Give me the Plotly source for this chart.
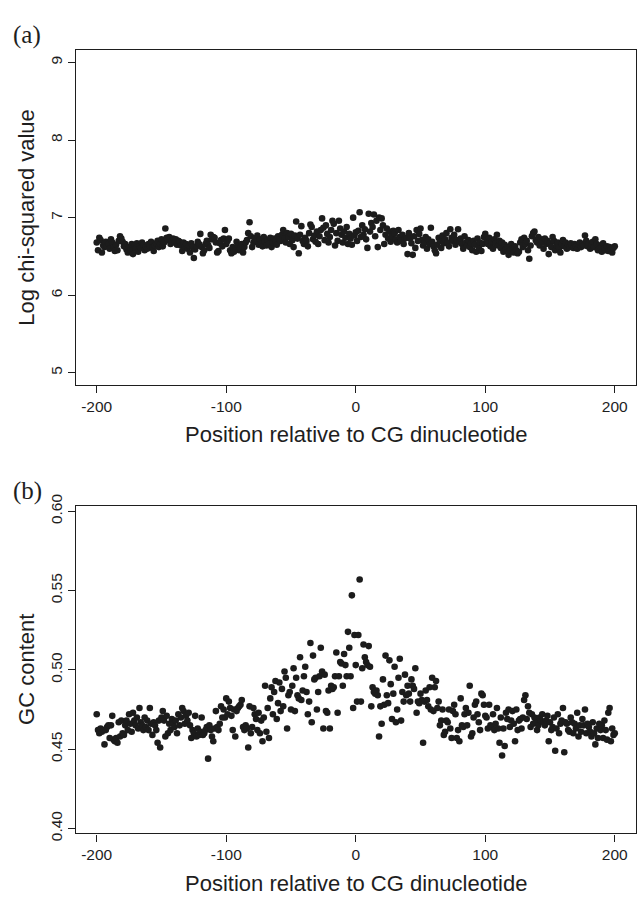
import plotly.graph_objects as go

# ---------------- data ----------------
positions_start = -200

# Panel (a): log chi-squared value, one value per position -200..200
log_chisq = [
    6.68, 6.58, 6.74, 6.71, 6.55, 6.64, 6.62, 6.69, 6.63, 6.66, 6.60, 6.72, 6.68, 6.61, 6.57, 6.65, 6.58, 6.70, 6.76, 6.73,
    6.69, 6.63, 6.66, 6.59, 6.55, 6.62, 6.58, 6.66, 6.53, 6.64, 6.60, 6.67, 6.56, 6.63, 6.61, 6.68, 6.65, 6.58, 6.62, 6.60,
    6.66, 6.63, 6.69, 6.61, 6.57, 6.64, 6.67, 6.70, 6.62, 6.66, 6.72, 6.63, 6.68, 6.86, 6.74, 6.71, 6.75, 6.66, 6.70, 6.73,
    6.68, 6.72, 6.65, 6.70, 6.69, 6.64, 6.57, 6.68, 6.62, 6.66, 6.60, 6.64, 6.55, 6.67, 6.62, 6.48, 6.59, 6.63, 6.69, 6.66,
    6.79, 6.62, 6.54, 6.58, 6.66, 6.70, 6.65, 6.61, 6.78, 6.72, 6.75, 6.74, 6.68, 6.55, 6.57, 6.67, 6.71, 6.63, 6.73, 6.84,
    6.66, 6.70, 6.73, 6.58, 6.54, 6.62, 6.56, 6.60, 6.69, 6.64, 6.58, 6.61, 6.66, 6.55, 6.62, 6.68, 6.71, 6.80, 6.94, 6.76,
    6.62, 6.68, 6.73, 6.70, 6.77, 6.65, 6.72, 6.67, 6.63, 6.75, 6.69, 6.64, 6.71, 6.66, 6.74, 6.62, 6.68, 6.73, 6.70, 6.65,
    6.76, 6.72, 6.70, 6.78, 6.84, 6.73, 6.68, 6.80, 6.75, 6.66, 6.79, 6.71, 6.62, 6.77, 6.95, 6.73, 6.54, 6.78, 6.89, 6.70,
    6.66, 6.74, 6.70, 6.63, 6.80, 6.91, 6.88, 6.72, 6.77, 6.69, 6.82, 6.66, 6.76, 6.84, 6.99, 6.87, 6.71, 6.90, 6.79, 6.68,
    6.75, 6.84, 6.96, 6.92, 6.64, 6.80, 6.70, 6.96, 6.86, 6.78, 6.68, 6.82, 6.74, 6.88, 6.66, 6.79, 6.73, 6.65, 7.00, 6.77,
    6.81, 6.70, 6.83, 7.07, 6.75, 6.90, 6.78, 6.85, 6.72, 6.61, 7.05, 6.82, 6.93, 6.88, 7.04, 6.76, 6.96, 6.62, 7.00, 6.84,
    6.99, 6.90, 6.66, 6.78, 6.86, 6.73, 6.82, 6.69, 6.76, 6.83, 6.80, 6.72, 6.68, 6.84, 6.75, 6.70, 6.78, 6.66, 6.73, 6.74,
    6.53, 6.80, 6.73, 6.67, 6.52, 6.76, 6.61, 6.84, 6.70, 6.79, 6.86, 6.71, 6.64, 6.68, 6.75, 6.60, 6.72, 6.66, 6.87, 6.69,
    6.63, 6.58, 6.54, 6.65, 6.74, 6.70, 6.61, 6.77, 6.67, 6.72, 6.80, 6.68, 6.63, 6.85, 6.74, 6.70, 6.78, 6.65, 6.71, 6.85,
    6.69, 6.73, 6.66, 6.60, 6.76, 6.68, 6.64, 6.71, 6.62, 6.67, 6.58, 6.70, 6.65, 6.56, 6.73, 6.62, 6.68, 6.57, 6.66, 6.75,
    6.79, 6.71, 6.66, 6.74, 6.63, 6.69, 6.60, 6.72, 6.67, 6.78, 6.64, 6.70, 6.61, 6.68, 6.56, 6.65, 6.59, 6.62, 6.52, 6.58,
    6.66, 6.60, 6.55, 6.63, 6.58, 6.54, 6.56, 6.68, 6.72, 6.62, 6.74, 6.66, 6.70, 6.58, 6.47, 6.64, 6.76, 6.80, 6.82, 6.71,
    6.68, 6.75, 6.64, 6.72, 6.69, 6.60, 6.73, 6.66, 6.70, 6.53, 6.67, 6.62, 6.75, 6.70, 6.58, 6.64, 6.68, 6.61, 6.55, 6.66,
    6.71, 6.63, 6.68, 6.60, 6.65, 6.62, 6.67, 6.64, 6.61, 6.66, 6.63, 6.60, 6.65, 6.68, 6.62, 6.66, 6.64, 6.77, 6.70, 6.63,
    6.67, 6.60, 6.65, 6.69, 6.62, 6.72, 6.66, 6.58, 6.64, 6.61, 6.56, 6.67, 6.60, 6.58, 6.63, 6.57, 6.62, 6.59, 6.55, 6.61,
    6.63,
]

# Panel (b): GC content, one value per position -200..200
gc_content = [
    0.472, 0.462, 0.460, 0.463, 0.461, 0.462, 0.453, 0.462, 0.464, 0.465, 0.457, 0.465, 0.471, 0.456, 0.455, 0.457, 0.454, 0.467, 0.458, 0.468,
    0.460, 0.459, 0.465, 0.468, 0.462, 0.472, 0.466, 0.461, 0.473, 0.468, 0.465, 0.470, 0.463, 0.476, 0.467, 0.465, 0.462, 0.470, 0.464, 0.468,
    0.462, 0.476, 0.466, 0.459, 0.467, 0.465, 0.462, 0.454, 0.468, 0.451, 0.470, 0.474, 0.468, 0.458, 0.471, 0.460, 0.466, 0.462, 0.469, 0.466,
    0.464, 0.468, 0.460, 0.472, 0.465, 0.470, 0.476, 0.474, 0.466, 0.471, 0.468, 0.473, 0.465, 0.457, 0.462, 0.460, 0.471, 0.458, 0.463, 0.459,
    0.461, 0.470, 0.459, 0.460, 0.462, 0.464, 0.444, 0.465, 0.462, 0.458, 0.455, 0.463, 0.474, 0.464, 0.462, 0.466, 0.477, 0.470, 0.475, 0.470,
    0.482, 0.472, 0.480, 0.476, 0.471, 0.462, 0.475, 0.458, 0.474, 0.476, 0.477, 0.478, 0.481, 0.464, 0.462, 0.465, 0.463, 0.451, 0.477, 0.460,
    0.464, 0.476, 0.472, 0.469, 0.462, 0.473, 0.460, 0.468, 0.455, 0.470, 0.490, 0.461, 0.476, 0.457, 0.482, 0.489, 0.472, 0.486, 0.493, 0.469,
    0.479, 0.492, 0.474, 0.488, 0.477, 0.499, 0.495, 0.463, 0.484, 0.486, 0.475, 0.490, 0.501, 0.474, 0.495, 0.484, 0.482, 0.508, 0.481, 0.487,
    0.496, 0.502, 0.486, 0.472, 0.480, 0.517, 0.467, 0.509, 0.494, 0.495, 0.475, 0.486, 0.496, 0.514, 0.499, 0.463, 0.497, 0.474, 0.473, 0.487,
    0.463, 0.490, 0.488, 0.489, 0.496, 0.511, 0.473, 0.496, 0.505, 0.504, 0.490, 0.510, 0.503, 0.496, 0.524, 0.514, 0.496, 0.547, 0.476, 0.522,
    0.503, 0.480, 0.522, 0.557, 0.480, 0.501, 0.516, 0.508, 0.505, 0.503, 0.515, 0.502, 0.477, 0.489, 0.486, 0.485, 0.487, 0.484, 0.458, 0.477,
    0.466, 0.494, 0.478, 0.509, 0.484, 0.479, 0.506, 0.491, 0.469, 0.485, 0.502, 0.467, 0.475, 0.495, 0.507, 0.468, 0.486, 0.480, 0.497, 0.484,
    0.490, 0.485, 0.480, 0.494, 0.490, 0.488, 0.501, 0.473, 0.480, 0.479, 0.485, 0.481, 0.454, 0.480, 0.487, 0.481, 0.477, 0.489, 0.475, 0.495,
    0.474, 0.489, 0.493, 0.476, 0.480, 0.465, 0.468, 0.475, 0.459, 0.461, 0.468, 0.467, 0.475, 0.463, 0.457, 0.474, 0.478, 0.472, 0.457, 0.462,
    0.455, 0.482, 0.465, 0.464, 0.472, 0.476, 0.465, 0.473, 0.490, 0.458, 0.460, 0.470, 0.478, 0.480, 0.472, 0.467, 0.462, 0.485, 0.484, 0.478,
    0.471, 0.470, 0.463, 0.478, 0.465, 0.464, 0.472, 0.462, 0.466, 0.476, 0.463, 0.454, 0.470, 0.446, 0.463, 0.452, 0.473, 0.469, 0.475, 0.464,
    0.468, 0.474, 0.466, 0.455, 0.475, 0.462, 0.468, 0.469, 0.463, 0.470, 0.481, 0.484, 0.469, 0.477, 0.473, 0.464, 0.472, 0.466, 0.470, 0.467,
    0.462, 0.465, 0.470, 0.468, 0.472, 0.467, 0.465, 0.468, 0.471, 0.455, 0.467, 0.462, 0.464, 0.470, 0.449, 0.463, 0.472, 0.460, 0.466, 0.468,
    0.476, 0.448, 0.467, 0.466, 0.462, 0.461, 0.470, 0.467, 0.460, 0.466, 0.463, 0.473, 0.458, 0.465, 0.461, 0.469, 0.465, 0.475, 0.460, 0.466,
    0.464, 0.461, 0.458, 0.467, 0.460, 0.453, 0.463, 0.457, 0.466, 0.462, 0.465, 0.457, 0.468, 0.462, 0.456, 0.473, 0.476, 0.455, 0.463, 0.459,
    0.460,
]

x_ticks = [-200, -100, 0, 100, 200]
x_ticktext = ["-200", "-100", "0", "100", "200"]
ya_ticks = [5, 6, 7, 8, 9]
yb_ticks = [0.40, 0.45, 0.50, 0.55, 0.60]
yb_ticktext = ["0.40", "0.45", "0.50", "0.55", "0.60"]

x_a = list(range(positions_start, positions_start + len(log_chisq)))
x_b = list(range(positions_start, positions_start + len(gc_content)))

# ---------------- layout helpers ----------------
W, H = 637, 904
def py(p):  # pixel y -> paper
    return 1 - p / H
def px(p):
    return p / W

FONT = "Liberation Sans, Arial, Helvetica, sans-serif"
INK = "#1e1e1e"
marker = dict(size=6.6, color="#1c1c1c", line=dict(width=0))

fig = go.Figure()
fig.add_trace(go.Scatter(x=x_a, y=log_chisq, mode="markers", marker=marker,
                         xaxis="x", yaxis="y", showlegend=False))
fig.add_trace(go.Scatter(x=x_b, y=gc_content, mode="markers", marker=marker,
                         xaxis="x2", yaxis="y2", showlegend=False))

xdom = [px(76), px(635.5)]
common_x = dict(range=[-216, 216], tickvals=x_ticks, ticktext=x_ticktext,
                ticks="outside", ticklen=7,
                tickwidth=1, tickcolor=INK, showline=True, mirror=True,
                linecolor=INK, linewidth=1.2, showgrid=False, zeroline=False,
                tickfont=dict(family=FONT, size=15.5, color=INK), domain=xdom)
common_y = dict(ticks="outside", ticklen=7, tickwidth=1, tickcolor=INK,
                showline=True, mirror=True, linecolor=INK, linewidth=1.2,
                showgrid=False, zeroline=False, tickangle=-90,
                tickfont=dict(family=FONT, size=15.5, color=INK))

fig.update_layout(
    width=W, height=H, margin=dict(l=0, r=0, t=0, b=0),
    paper_bgcolor="white", plot_bgcolor="white",
    xaxis=dict(**common_x, anchor="y"),
    yaxis=dict(**common_y, range=[4.84, 9.16], tickvals=ya_ticks,
               domain=[py(381), py(38)], anchor="x"),
    xaxis2=dict(**common_x, anchor="y2"),
    yaxis2=dict(**common_y, range=[0.3968, 0.6032], tickvals=yb_ticks,
                ticktext=yb_ticktext, domain=[py(840), py(505)], anchor="x2"),
)

ann = []
title_font = dict(family=FONT, size=22, color=INK)
ann.append(dict(text="Position relative to CG dinucleotide", x=px((76 + 636) / 2), y=py(432),
                xref="paper", yref="paper", showarrow=False, font=title_font,
                xanchor="center", yanchor="middle"))
ann.append(dict(text="Position relative to CG dinucleotide", x=px((76 + 636) / 2), y=py(891),
                xref="paper", yref="paper", showarrow=False, font=title_font,
                xanchor="center", yanchor="middle"))
ann.append(dict(text="Log chi-squared value", x=px(27), y=py((38 + 381) / 2),
                xref="paper", yref="paper", showarrow=False, font=title_font,
                textangle=-90, xanchor="center", yanchor="middle"))
ann.append(dict(text="GC content", x=px(27), y=py((505 + 840) / 2),
                xref="paper", yref="paper", showarrow=False, font=title_font,
                textangle=-90, xanchor="center", yanchor="middle"))
label_font = dict(family="Liberation Serif, Times New Roman, serif", size=25, color=INK)
ann.append(dict(text="(a)", x=px(27), y=py(23), xref="paper", yref="paper",
                showarrow=False, font=label_font, xanchor="center", yanchor="middle"))
ann.append(dict(text="(b)", x=px(27), y=py(489), xref="paper", yref="paper",
                showarrow=False, font=label_font, xanchor="center", yanchor="middle"))
fig.update_layout(annotations=ann)

fig.write_html("out.html")
